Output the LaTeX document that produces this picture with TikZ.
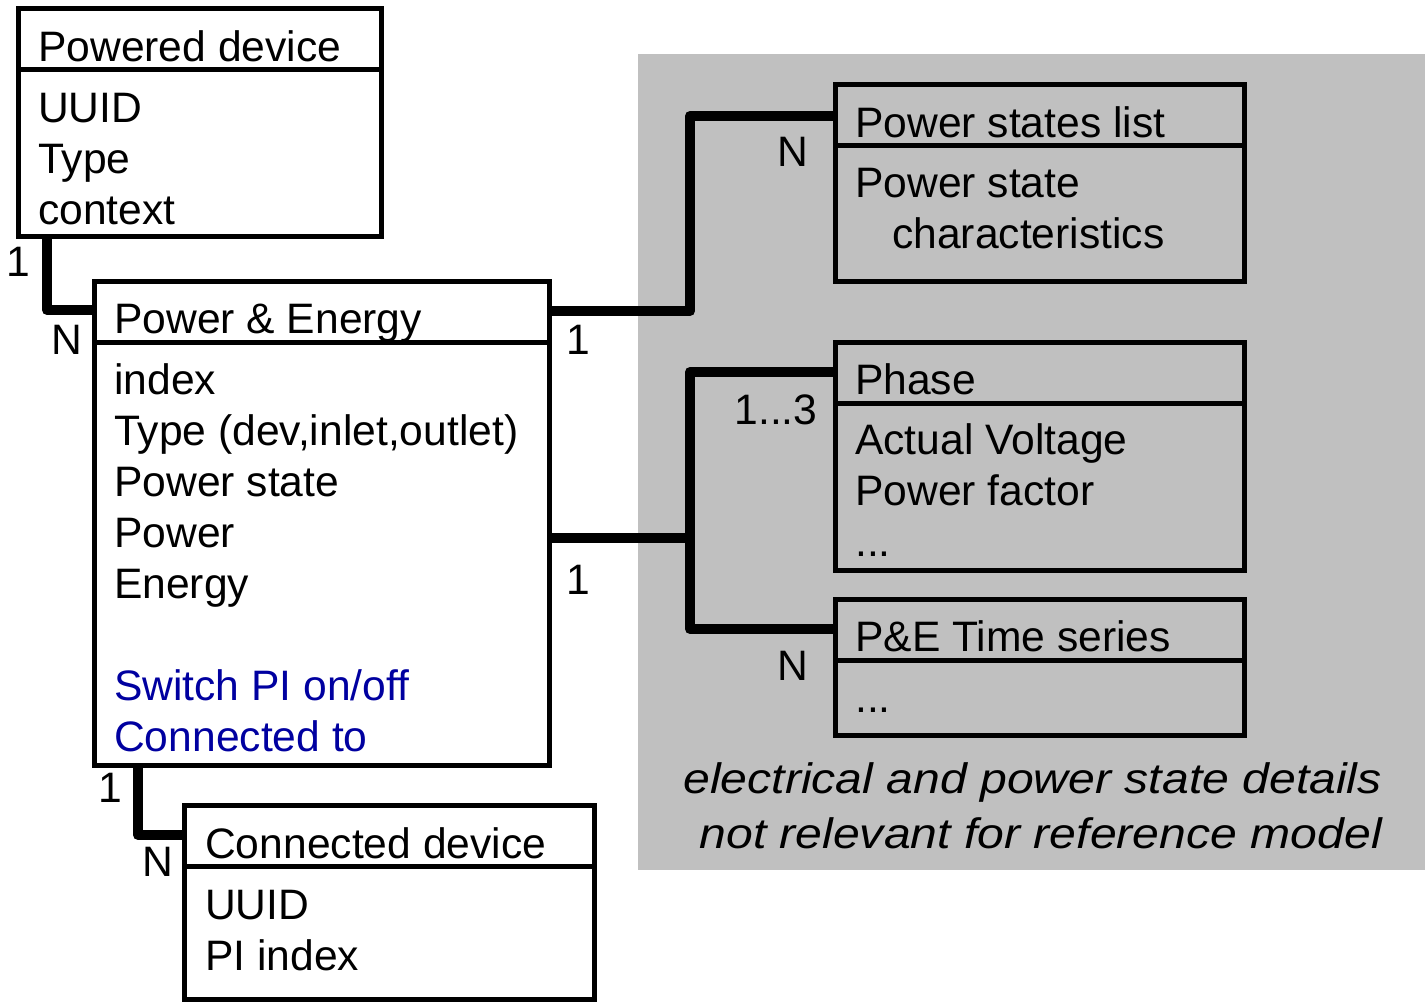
\documentclass[tikz,border=0pt]{standalone}
\usepackage{fontspec}
\setmainfont{Liberation Sans}
\usetikzlibrary{calc}
\definecolor{bgshade}{RGB}{192,192,192}
\definecolor{actblue}{RGB}{0,0,160}
\newcommand{\notetext}[1]{\scalebox{1.13}[1]{\itshape #1}}

\begin{document}
\begin{tikzpicture}[x=1pt, y=-1pt,
  every node/.style={font=\fontsize{42.6}{51}\selectfont, inner sep=0pt},
  entbox/.style={draw, line width=5pt, anchor=north west, inner sep=0pt,
    outer sep=0pt},
  hdr/.style={line width=5pt},
  txt/.style={anchor=base west},
  link/.style={line width=10pt, line join=round}]
  \useasboundingbox (0,0) rectangle (1425,1002);
  \fill[bgshade] (638,54) rectangle (1425,870);

  \foreach \n/\x/\y/\w/\h in {pd/18/8/363/228, pe/94/281/455/484,
      cd/184/805/410/194, psl/835/84/409/197, ph/835/342/409/228,
      ts/835/599/409/136} {
    \node[entbox, minimum width=\w pt, minimum height=\h pt] (\n) at (\x,\y) {};
    \draw[hdr] ($(\n.north west)+(0,61)$) -- ($(\n.north east)+(0,61)$);
  }

  % powered device
  \node[txt] (pdt) at (38,61) {Powered device};
  \node[txt] (pd1) at (38,122) {UUID};
  \node[txt] (pd2) at (38,173) {Type};
  \node[txt] (pd3) at (38,224) {context};

  % power & energy
  \node[txt] (pet) at (114,333) {Power \& Energy};
  \foreach \i/\y/\name in {1/394/index, 2/445/{Type (dev,inlet,outlet)},
      3/496/Power state, 4/547/Power, 5/598/Energy} {
    \node[txt] (pe\i) at (114,\y) {\name};
  }
  \node[txt, text=actblue] (pe6) at (114,700) {Switch PI on/off};
  \node[txt, text=actblue] (pe7) at (114,751) {Connected to};

  % connected device
  \node[txt] (cdt) at (205,858) {Connected device};
  \node[txt] (cd1) at (205,919) {UUID};
  \node[txt] (cd2) at (205,970) {PI index};

  % detail boxes
  \node[txt] (pslt) at (855,137) {Power states list};
  \node[txt] (psl1) at (855,197) {Power state};
  \node[txt] (psl2) at (892,248) {characteristics};
  \node[txt] (pht) at (855,394) {Phase};
  \node[txt] (ph1) at (855,454) {Actual Voltage};
  \node[txt] (ph2) at (855,505) {Power factor};
  \node[txt] (ph3) at (855,556) {...};
  \node[txt] (tst) at (855,651) {P\&E Time series};
  \node[txt] (ts1) at (855,712) {...};

  % connectors
  \draw[link] ([xshift=29pt]pd.south west) |- ([yshift=-29pt]pe.north west);
  \draw[link] ([yshift=-30pt]pe.north east) -- ++(141,0)
    |- ([yshift=-32pt]psl.north west);
  \draw[link] ([yshift=-257pt]pe.north east) -- ++(141,0) coordinate (j2);
  \draw[link] ([yshift=-30pt]ph.north west) -| (j2)
    |- ([yshift=-30pt]ts.north west);
  \draw[link] ([xshift=44pt]pe.south west) |- ([yshift=-30pt]cd.north west);

  % cardinalities
  \foreach \n/\x/\y/\t in {c1/18/262/1, c2/67/340/N, c3/578/340/1,
      c4/793/152/N, c6/578/580/1, c7/793/666/N,
      c8/110/788/1, c9/158/862/N} {
    \node (\n) at (\x,\y) {\t};
  }
  \node (c5) at (776,410) {1...3};

  \node[anchor=base east] (note1) at (1382,793)
    {\notetext{electrical and power state details}};
  \node[anchor=base east] (note2) at (1382,848)
    {\notetext{not relevant for reference model}};
\end{tikzpicture}
\end{document}
